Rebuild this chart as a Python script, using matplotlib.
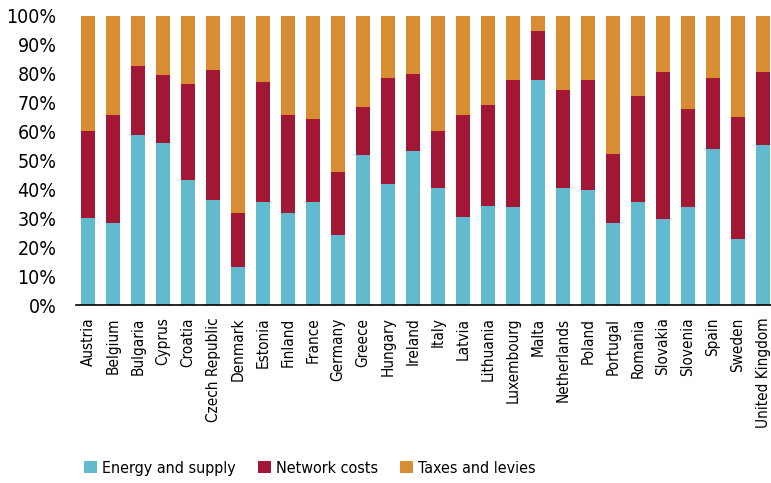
import matplotlib.pyplot as plt
import numpy as np

countries = ['Austria', 'Belgium', 'Bulgaria', 'Cyprus', 'Croatia', 'Czech Republic',
             'Denmark', 'Estonia', 'Finland', 'France', 'Germany', 'Greece', 'Hungary',
             'Ireland', 'Italy', 'Latvia', 'Lithuania', 'Luxembourg', 'Malta', 'Netherlands',
             'Poland', 'Portugal', 'Romania', 'Slovakia', 'Slovenia', 'Spain', 'Sweden',
             'United Kingdom']
# share of the price, in %
energy = [30.0, 28.5, 58.8, 56.1, 43.3, 36.2, 13.0, 35.6, 31.9, 35.5, 24.2, 51.8, 41.9,
          53.3, 40.5, 30.6, 34.1, 34.0, 78.0, 40.5, 39.8, 28.5, 35.5, 29.9, 34.0, 54.0,
          22.8, 55.4]
network_top = [60.2, 65.9, 82.8, 79.4, 76.6, 81.4, 31.9, 77.3, 65.9, 64.5, 46.1, 68.6, 78.7,
               80.0, 60.3, 65.9, 69.3, 78.0, 94.9, 74.4, 78.0, 52.4, 72.2, 80.7, 67.9, 78.7,
               65.2, 80.7]
network = [t - e for t, e in zip(network_top, energy)]
taxes = [100 - t for t in network_top]

c_energy = '#62BACF'
c_network = '#A31736'
c_taxes = '#D98D33'

plt.rcParams['font.family'] = ['DejaVu Sans']
plt.rcParams['font.stretch'] = 'condensed'

fig = plt.figure(figsize=(7.71, 4.83), dpi=100)
ax = fig.add_axes([0.0986, 0.3685, 0.9014, 0.5985])

x = np.arange(len(countries))
w = 0.56
ax.bar(x, energy, w, color=c_energy, label='Energy and supply')
ax.bar(x, network, w, bottom=energy, color=c_network, label='Network costs')
ax.bar(x, taxes, w, bottom=network_top, color=c_taxes, label='Taxes and levies')

ax.set_xlim(-0.48, 27.32)
ax.set_ylim(0, 100)
ax.set_yticks(range(0, 101, 10))
ax.set_yticklabels([f'{v}%' for v in range(0, 101, 10)], fontsize=14)
ax.set_xticks(x)
ax.set_xticklabels(countries, rotation=90, fontsize=11)
ax.tick_params(axis='both', length=0)
ax.tick_params(axis='y', pad=14)
ax.tick_params(axis='x', pad=9)
for s in ['top', 'right', 'left']:
    ax.spines[s].set_visible(False)
ax.spines['bottom'].set_linewidth(1.2)

fig.legend(loc='center', bbox_to_anchor=(0.402, 0.031), ncol=3, frameon=False,
           fontsize=11.5, handlelength=0.8, handleheight=0.8, handletextpad=0.3,
           columnspacing=1.4)

plt.savefig('out.png', dpi=100)
